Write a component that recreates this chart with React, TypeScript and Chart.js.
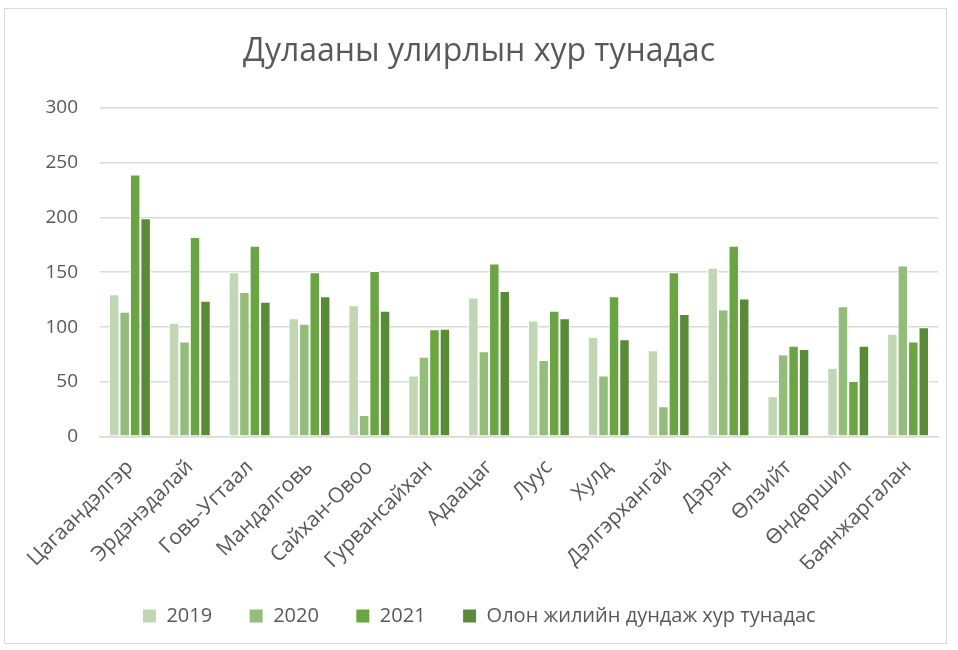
import React, { useEffect, useRef } from "react";
import { Chart, registerables } from "chart.js";

Chart.register(...registerables);

const categories = [
  "Цагаандэлгэр",
  "Эрдэнэдалай",
  "Говь-Угтаал",
  "Мандалговь",
  "Сайхан-Овоо",
  "Гурвансайхан",
  "Адаацаг",
  "Луус",
  "Хулд",
  "Дэлгэрхангай",
  "Дэрэн",
  "Өлзийт",
  "Өндөршил",
  "Баянжаргалан",
];

const seriesNames = ["2019", "2020", "2021", "Олон жилийн дундаж хур тунадас"];

const values2019 = [130, 104, 150, 108, 120, 56, 127, 106, 91, 79, 154, 37, 63, 94];
const values2020 = [114, 87, 132, 103, 20, 73, 78, 70, 56, 28, 116, 75, 119, 156];
const values2021 = [239, 182, 174, 150, 151, 98, 158, 115, 128, 150, 174, 83, 51, 87];
const valuesAvg = [199, 124, 123, 128, 115, 98.5, 133, 108, 89, 112, 126, 80, 83, 100];

const yTicks = [0, 50, 100, 150, 200, 250, 300];

const colors = ["#C1D7B4", "#94BC7B", "#6AA443", "#588A37"];

const titleText = "Дулааны улирлын хур тунадас";

export default function App() {
  const canvasRef = useRef<HTMLCanvasElement | null>(null);

  useEffect(() => {
    const canvas = canvasRef.current;
    if (!canvas) return;
    const allSeries = [values2019, values2020, values2021, valuesAvg];
    const chart = new Chart(canvas, {
      type: "bar",
      data: {
        labels: categories,
        datasets: allSeries.map((vals, i) => ({
          label: seriesNames[i],
          data: vals,
          backgroundColor: colors[i],
          borderColor: "#ffffff",
          borderWidth: 1,
          borderSkipped: false,
          categoryPercentage: 0.7,
          barPercentage: 1.0,
        })),
      },
      options: {
        animation: false,
        responsive: false,
        maintainAspectRatio: false,
        devicePixelRatio: 1,
        layout: { padding: { left: 20, right: 20, top: 0, bottom: 14 } },
        plugins: {
          tooltip: { enabled: false },
          title: {
            display: true,
            text: titleText,
            color: "#595959",
            font: { family: "'Open Sans', sans-serif", size: 32, weight: "normal" },
            padding: { top: 33, bottom: 36 },
          },
          legend: {
            position: "bottom",
            labels: {
              color: "#595959",
              font: { family: "'Open Sans', sans-serif", size: 20 },
              boxWidth: 14,
              boxHeight: 14,
              padding: 37,
            },
          },
        },
        scales: {
          x: {
            grid: { display: false, drawTicks: false },
            border: { color: "#d9d9d9", width: 1.5 },
            ticks: {
              color: "#595959",
              font: { family: "'Open Sans', sans-serif", size: 21 },
              minRotation: 45,
              maxRotation: 45,
              padding: 18,
            },
            afterFit: (scale: any) => {
              scale.height = 132;
            },
          },
          y: {
            min: 0,
            max: 300,
            afterBuildTicks: (scale: any) => {
              scale.ticks = yTicks.map((v) => ({ value: v }));
            },
            grid: { color: "#d9d9d9", lineWidth: 1.5, drawTicks: false },
            border: { display: false },
            ticks: {
              color: "#595959",
              font: { family: "'Open Sans', sans-serif", size: 19 },
              padding: 22,
            },
            afterFit: (scale: any) => {
              scale.width = 80;
            },
          },
        },
      },
    });
    return () => chart.destroy();
  }, []);

  return (
    <div style={{ position: "absolute", left: 0, top: 0, width: 958, height: 650 }}>
      <div
        style={{
          position: "absolute",
          left: 4,
          top: 8,
          width: 943,
          height: 636,
          border: "1px solid #d9d9d9",
          boxSizing: "border-box",
        }}
      />
      <canvas
        ref={canvasRef}
        width={958}
        height={650}
        style={{ position: "absolute", left: 0, top: 0, width: 958, height: 650 }}
      />
    </div>
  );
}
